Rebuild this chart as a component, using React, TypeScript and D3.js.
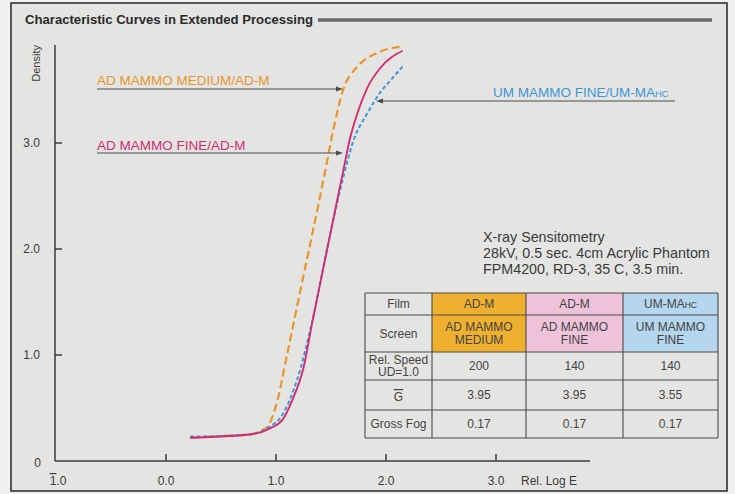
import React from "react";
import * as d3 from "d3";

// ---- data ----
const mediumLogE = [0.22, 0.58, 0.76, 0.87, 0.92, 1.01, 1.10, 1.20, 1.45, 1.52, 1.61, 1.74, 1.92, 2.15];
const mediumDensity = [0.22, 0.24, 0.25, 0.29, 0.32, 0.56, 1.00, 1.50, 2.75, 3.12, 3.50, 3.72, 3.85, 3.91];

const fineLogE = [0.22, 0.76, 0.95, 1.06, 1.15, 1.25, 1.33, 1.61, 1.67, 1.74, 1.83, 1.95, 2.15];
const fineDensity = [0.22, 0.25, 0.31, 0.39, 0.58, 0.88, 1.31, 2.73, 3.03, 3.28, 3.52, 3.71, 3.87];

const umLogE = [0.22, 0.76, 0.92, 1.06, 1.19, 1.33, 1.47, 1.61, 1.70, 1.83, 1.95, 2.04, 2.15];
const umDensity = [0.23, 0.25, 0.31, 0.44, 0.76, 1.32, 2.03, 2.67, 3.01, 3.28, 3.48, 3.59, 3.72];

const xTicks = [0, 1, 2, 3];
const xTickLabels = ["0.0", "1.0", "2.0", "3.0"];
const yTicks = [1, 2, 3];
const yTickLabels = ["1.0", "2.0", "3.0"];

const tableRowHeads = ["Film", "Screen", "Rel. Speed|UD=1.0", "G", "Gross Fog"];
const tableFilm = ["AD-M", "AD-M", "UM-MA"];
const tableScreen = ["AD MAMMO|MEDIUM", "AD MAMMO|FINE", "UM MAMMO|FINE"];
const tableSpeed = ["200", "140", "140"];
const tableGamma = ["3.95", "3.95", "3.55"];
const tableFog = ["0.17", "0.17", "0.17"];

const conditionLines = [
  "X-ray Sensitometry",
  "28kV, 0.5 sec. 4cm Acrylic Phantom",
  "FPM4200, RD-3, 35 C, 3.5 min.",
];

const COL_ORANGE = "#e8952c";
const COL_PINK = "#d42a72";
const COL_BLUE = "#3d97d6";
const FONT = "'Liberation Sans', Arial, Helvetica, sans-serif";

export default function App() {
  const W = 735, H = 494;
  const x = d3.scaleLinear().domain([-1, 4]).range([56, 606]);
  const y = d3.scaleLinear().domain([0, 4]).range([461, 37]);

  const line = d3
    .line<[number, number]>()
    .x((d) => x(d[0]))
    .y((d) => y(d[1]))
    .curve(d3.curveMonotoneX);

  const series = [
    { xs: mediumLogE, ys: mediumDensity, color: COL_ORANGE, dash: "8,4", w: 2.2 },
    { xs: umLogE, ys: umDensity, color: COL_BLUE, dash: "4,2.5", w: 2 },
    { xs: fineLogE, ys: fineDensity, color: COL_PINK, dash: null, w: 1.9 },
  ];

  const axisColor = "#3a3a3a";
  const txt = "#3a3a3a";

  // table layout
  const colX = [365, 432, 526, 623, 718];
  const rowY = [293, 315, 352, 380, 410, 438];
  const fills = ["#efb02f", "#eec3da", "#b4d6ee"];
  const rows = [tableFilm, tableScreen, tableSpeed, tableGamma, tableFog];

  const cellText = (s: string, cx: number, cy: number, key: string, extra?: React.ReactNode) => {
    const parts = s.split("|");
    const lh = 12.5;
    const y0 = cy - ((parts.length - 1) * lh) / 2 + 4;
    return (
      <text key={key} x={cx} y={y0} textAnchor="middle" fontSize={12} fill="#444" fontFamily={FONT}>
        {parts.map((p, i) => (
          <tspan key={i} x={cx} dy={i === 0 ? 0 : lh}>
            {p}
          </tspan>
        ))}
        {extra}
      </text>
    );
  };

  const arrowHead = (tx: number, ty: number, dir: number) => (
    <path
      d={`M${tx},${ty} L${tx - dir * 7},${ty - 2.5} L${tx - dir * 7},${ty + 2.5} Z`}
      fill="#4a4a4a"
    />
  );

  return (
    <svg
      width={W}
      height={H}
      style={{ position: "absolute", left: 0, top: 0, fontFamily: FONT }}
    >
      <rect x={0} y={0} width={W} height={H} fill="#f0f0ef" />
      <rect x={11} y={3} width={716} height={488} fill="#e4e5e3" stroke="#333" strokeWidth={1.6} />

      {/* title */}
      <text x={25} y={24} fontSize={12.5} fontWeight="bold" fill="#2a2a2a" textLength={288} lengthAdjust="spacingAndGlyphs">
        Characteristic Curves in Extended Processing
      </text>
      <line x1={318} x2={712} y1={20} y2={20} stroke="#6a6a6a" strokeWidth={3.5} />

      {/* axes */}
      <line x1={55} x2={55} y1={45} y2={461} stroke={axisColor} strokeWidth={1.5} />
      <line x1={55} x2={590} y1={461} y2={461} stroke={axisColor} strokeWidth={1.5} />
      {yTicks.map((t, i) => (
        <g key={"yt" + i}>
          <line x1={55} x2={62} y1={y(t)} y2={y(t)} stroke={axisColor} strokeWidth={1.5} />
          <text x={40} y={y(t) + 4} textAnchor="end" fontSize={12} fill={txt}>
            {yTickLabels[i]}
          </text>
        </g>
      ))}
      <text x={41} y={467} textAnchor="end" fontSize={12} fill={txt}>0</text>
      {xTicks.map((t, i) => (
        <g key={"xt" + i}>
          <line x1={x(t)} x2={x(t)} y1={461} y2={454} stroke={axisColor} strokeWidth={1.5} />
          <text x={x(t)} y={485} textAnchor="middle" fontSize={12} fill={txt}>
            {xTickLabels[i]}
          </text>
        </g>
      ))}
      <text x={x(-1) + 2} y={485} textAnchor="middle" fontSize={12} fill={txt}>
        <tspan style={{ textDecoration: "overline" }}>1</tspan>.0
      </text>
      <text x={521} y={485} fontSize={12} fill={txt}>Rel. Log E</text>
      <text transform="translate(40,45) rotate(-90)" textAnchor="end" fontSize={11} fill={txt}>
        Density
      </text>

      {/* curves */}
      {series.map((s, i) => (
        <path
          key={"s" + i}
          d={line(s.xs.map((v, j) => [v, s.ys[j]] as [number, number])) || ""}
          fill="none"
          stroke={s.color}
          strokeWidth={s.w}
          strokeDasharray={s.dash || undefined}
        />
      ))}

      {/* annotations */}
      <text x={97} y={85} fontSize={13.5} fill={COL_ORANGE}>AD MAMMO MEDIUM/AD-M</text>
      <line x1={97} x2={338} y1={89} y2={89} stroke="#4a4a4a" strokeWidth={1} />
      {arrowHead(343, 89, 1)}

      <text x={97} y={150} fontSize={13.5} fill={COL_PINK}>AD MAMMO FINE/AD-M</text>
      <line x1={97} x2={338} y1={153} y2={153} stroke="#4a4a4a" strokeWidth={1} />
      {arrowHead(343, 153, 1)}

      <text x={493} y={97} fontSize={13.5} fill={COL_BLUE}>
        UM MAMMO FINE/UM-MA<tspan fontSize={9.5}>HC</tspan>
      </text>
      <line x1={381} x2={675} y1={101} y2={101} stroke="#4a4a4a" strokeWidth={1} />
      {arrowHead(376, 101, -1)}

      {/* conditions */}
      {conditionLines.map((s, i) => (
        <text key={"cond" + i} x={483} y={242 + i * 16} fontSize={14.3} fill={txt}>
          {s}
        </text>
      ))}

      {/* table */}
      {fills.map((f, i) => (
        <rect key={"f" + i} x={colX[i + 1]} y={rowY[0]} width={colX[i + 2] - colX[i + 1]} height={rowY[2] - rowY[0]} fill={f} />
      ))}
      {rowY.map((ry, i) => (
        <line key={"rl" + i} x1={colX[0]} x2={colX[4]} y1={ry} y2={ry} stroke="#4a4a4a" strokeWidth={1.1} />
      ))}
      {colX.map((cx, i) => (
        <line key={"cl" + i} x1={cx} x2={cx} y1={rowY[0]} y2={rowY[5]} stroke="#4a4a4a" strokeWidth={1.1} />
      ))}
      {tableRowHeads.map((h, r) => {
        const cx = (colX[0] + colX[1]) / 2;
        const cy = (rowY[r] + rowY[r + 1]) / 2;
        if (h === "G") {
          return (
            <text key={"h" + r} x={cx} y={cy + 6} textAnchor="middle" fontSize={12} fill="#444">
              <tspan style={{ textDecoration: "overline" }}>G</tspan>
            </text>
          );
        }
        return cellText(h, cx, cy, "h" + r);
      })}
      {rows.map((row, r) =>
        row.map((v, c) => {
          const cx = (colX[c + 1] + colX[c + 2]) / 2;
          const cy = (rowY[r] + rowY[r + 1]) / 2;
          const extra = r === 0 && c === 2 ? <tspan fontSize={8.5}>HC</tspan> : undefined;
          return cellText(v, cx, cy, `c${r}-${c}`, extra);
        })
      )}
    </svg>
  );
}
